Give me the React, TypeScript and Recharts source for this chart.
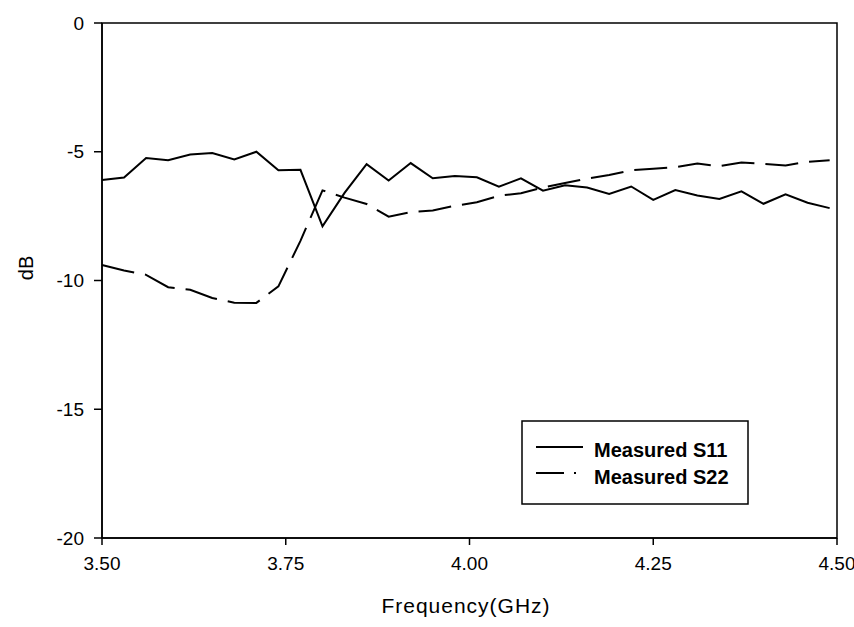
import React from 'react';
import { LineChart, Line, XAxis, YAxis, ReferenceArea, Legend, Label } from 'recharts';

const FREQ = [
  3.5, 3.53, 3.56, 3.59, 3.62, 3.65, 3.68, 3.71, 3.74, 3.77, 3.8, 3.83, 3.86, 3.89, 3.92, 3.95, 3.98,
  4.01, 4.04, 4.07, 4.1, 4.13, 4.16, 4.19, 4.22, 4.25, 4.28, 4.31, 4.34, 4.37, 4.4, 4.43, 4.46, 4.49,
];
const S11 = [
  -6.1, -6.0, -5.24, -5.33, -5.11, -5.05, -5.3, -5.0, -5.72, -5.7, -7.9, -6.6, -5.48, -6.12, -5.44, -6.03, -5.94,
  -5.99, -6.36, -6.03, -6.51, -6.3, -6.39, -6.64, -6.35, -6.87, -6.49, -6.7, -6.83, -6.54, -7.02, -6.65, -6.98, -7.19,
];
const S22 = [
  -9.4, -9.61, -9.78, -10.26, -10.36, -10.68, -10.86, -10.87, -10.23, -8.46, -6.5, -6.78, -7.03, -7.52, -7.34, -7.28, -7.1,
  -6.96, -6.71, -6.61, -6.39, -6.21, -6.04, -5.9, -5.72, -5.66, -5.6, -5.46, -5.56, -5.42, -5.47, -5.53, -5.39, -5.33,
];
const X_TICKS = [3.5, 3.75, 4.0, 4.25, 4.5];
const Y_TICKS = [0, -5, -10, -15, -20];

const FONT = '"Liberation Sans", Arial, sans-serif';
const S22_DASH = '33 11';

const data = FREQ.map((f, i) => ({ freq: f, s11: S11[i], s22: S22[i] }));

function LegendBox() {
  return (
    <svg width={228} height={85} style={{ display: 'block' }}>
      <rect x={1} y={1} width={226} height={83} fill="#fff" stroke="#000" strokeWidth={1.5} />
      <line x1={15} y1={27} x2={62} y2={27} stroke="#000" strokeWidth={2} />
      <text x={73} y={37} fontFamily={FONT} fontSize={20} fontWeight="bold" fill="#000">Measured S11</text>
      <line x1={15} y1={53} x2={62} y2={53} stroke="#000" strokeWidth={2} strokeDasharray="28 10 2 10" />
      <text x={73} y={64} fontFamily={FONT} fontSize={20} fontWeight="bold" fill="#000">Measured S22</text>
    </svg>
  );
}

export default function App() {
  return (
    <div style={{ position: 'absolute', left: 0, top: 0, width: 854, height: 627, background: '#fff' }}>
      <LineChart width={854} height={627} data={data} margin={{ top: 23, right: 17, bottom: 0, left: 0 }}>
        <XAxis
          dataKey="freq"
          type="number"
          domain={[3.5, 4.5]}
          ticks={X_TICKS}
          tickFormatter={(v: number) => v.toFixed(2)}
          height={89}
          tickSize={7}
          tickMargin={12}
          stroke="#000"
          strokeWidth={1.5}
          tick={{ fill: '#000', fontSize: 19, fontFamily: FONT }}
        >
          <Label
            content={() => (
              <text x={466} y={613} textAnchor="middle" fontFamily={FONT} fontSize={21} letterSpacing={1} fill="#000">
                Frequency(GHz)
              </text>
            )}
          />
        </XAxis>
        <YAxis
          type="number"
          domain={[-20, 0]}
          ticks={Y_TICKS}
          width={102}
          tickSize={8}
          tickMargin={10}
          stroke="#000"
          strokeWidth={1.5}
          tick={{ fill: '#000', fontSize: 19, fontFamily: FONT }}
        >
          <Label
            content={() => (
              <text x={33} y={268} transform="rotate(-90 33 268)" textAnchor="middle" fontFamily={FONT} fontSize={20} fill="#000">
                dB
              </text>
            )}
          />
        </YAxis>
        <ReferenceArea x1={3.5} x2={4.5} y1={-20} y2={0} fill="none" fillOpacity={0} stroke="#000" strokeWidth={1.5} />
        <Line
          type="linear"
          dataKey="s11"
          name="Measured S11"
          stroke="#000"
          strokeWidth={2}
          dot={false}
          isAnimationActive={false}
        />
        <Line
          type="linear"
          dataKey="s22"
          name="Measured S22"
          stroke="#000"
          strokeWidth={2}
          strokeDasharray={S22_DASH}
          dot={false}
          isAnimationActive={false}
        />
        <Legend
          layout="vertical"
          align="center"
          verticalAlign="middle"
          wrapperStyle={{ position: 'absolute', left: 521, top: 420, width: 228, height: 85 }}
          content={() => <LegendBox />}
        />
      </LineChart>
    </div>
  );
}
